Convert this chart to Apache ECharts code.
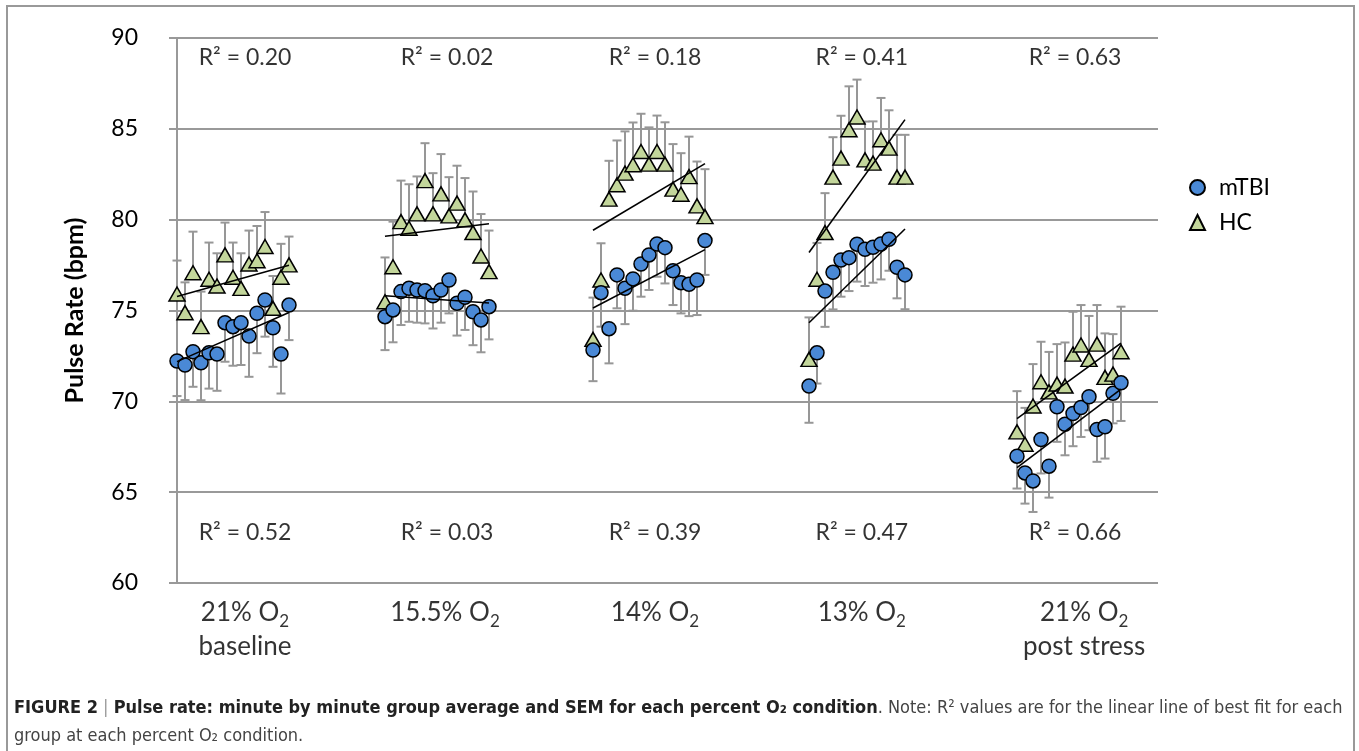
<!DOCTYPE html>
<html><head><meta charset="utf-8">
<script src="https://cdn.jsdelivr.net/npm/echarts@6/dist/echarts.min.js"></script>
<style>html,body{margin:0;padding:0;background:#fff;}#c{width:1359px;height:751px;}</style>
</head><body><div id="c"></div>
<script>
// ---------- data ----------
const conditionNames = ['21% O2', '15.5% O2', '14% O2', '13% O2', '21% O2'];
const conditionSub   = ['baseline', '', '', '', 'post stress'];
const groupStart = [0, 26, 52, 79, 105];          // minute index of first point in each condition
const labelCenters = [8.5, 33.5, 59.75, 85.6, 113.4];
const r2Centers    = [8.5, 33.75, 59.75, 85.6, 112.25];
const r2HC   = ['0.20', '0.02', '0.18', '0.41', '0.63'];
const r2mTBI = ['0.52', '0.03', '0.39', '0.47', '0.66'];

const mtbi1 = [72.22, 72.00, 72.73, 72.12, 72.67, 72.60, 74.33, 74.11, 74.33, 73.59, 74.85, 75.58, 74.05, 72.60, 75.30];
const mtbi2 = [74.66, 75.03, 76.04, 76.22, 76.13, 76.09, 75.81, 76.13, 76.68, 75.40, 75.73, 74.93, 74.48, 75.21];
const mtbi3 = [72.82, 75.98, 74.00, 76.96, 76.22, 76.74, 77.56, 78.06, 78.66, 78.46, 77.19, 76.53, 76.44, 76.68, 78.85];
const mtbi4 = [70.84, 72.67, 76.07, 77.10, 77.78, 77.91, 78.65, 78.37, 78.48, 78.66, 78.92, 77.38, 76.96];
const mtbi5 = [66.98, 66.06, 65.62, 67.90, 66.43, 69.70, 68.74, 69.33, 69.66, 70.25, 68.45, 68.60, 70.44, 71.02];

const mtbiSem1 = [1.93, 1.93, 1.93, 2.06, 1.97, 2.02, 2.15, 2.15, 2.33, 2.24, 2.20, 2.02, 2.15, 2.17, 1.93];
const mtbiSem2 = [1.84, 1.78, 1.84, 1.84, 1.80, 1.80, 1.80, 1.80, 1.84, 1.78, 1.80, 1.84, 1.78, 1.80];
const mtbiSem3 = [1.71, 1.87, 1.91, 1.84, 1.97, 1.75, 1.80, 1.93, 1.80, 1.97, 1.89, 1.69, 1.75, 1.93, 1.89];
const mtbiSem4 = [2.02, 1.69, 1.97, 2.04, 2.02, 1.84, 2.06, 2.02, 1.95, 1.95, 1.73, 1.71, 1.89];
const mtbiSem5 = [1.78, 1.69, 1.71, 1.87, 1.73, 1.93, 1.71, 1.80, 1.62, 1.84, 1.78, 1.75, 1.65, 2.10];

const hc1 = [75.91, 74.88, 77.08, 74.11, 76.72, 76.35, 78.06, 76.83, 76.22, 77.56, 77.74, 78.52, 75.12, 76.83, 77.51];
const hc2 = [75.48, 77.41, 79.89, 79.53, 80.32, 82.15, 80.32, 81.42, 80.21, 80.91, 79.99, 79.29, 78.00, 77.14];
const hc3 = [73.41, 76.68, 81.13, 81.92, 82.56, 83.02, 83.75, 83.06, 83.75, 83.06, 81.68, 81.40, 82.37, 80.76, 80.17];
const hc4 = [72.31, 76.72, 79.29, 82.34, 83.39, 84.95, 85.65, 83.29, 83.11, 84.40, 83.94, 82.34, 82.34];
const hc5 = [68.32, 67.64, 69.74, 71.08, 70.52, 70.95, 70.84, 72.60, 73.10, 72.31, 73.15, 71.32, 71.50, 72.73];

const hcSem1 = [1.84, 1.67, 2.26, 1.93, 2.02, 1.80, 1.78, 1.91, 1.93, 1.84, 1.91, 1.90, 1.78, 1.84, 1.56];
const hcSem2 = [2.44, 2.48, 2.26, 2.42, 2.06, 2.06, 2.24, 2.19, 2.13, 2.06, 2.30, 2.26, 2.31, 2.26];
const hcSem3 = [2.30, 2.02, 2.11, 2.44, 2.30, 2.33, 2.08, 2.02, 1.98, 2.30, 2.48, 2.26, 2.20, 2.44, 2.61];
const hcSem4 = [2.31, 2.00, 2.17, 2.20, 2.33, 2.39, 2.06, 2.11, 2.30, 2.30, 2.08, 2.33, 2.33];
const hcSem5 = [2.24, 2.00, 2.31, 2.20, 2.20, 2.20, 2.40, 2.33, 2.20, 2.39, 2.15, 2.42, 2.20, 2.48];

// ---------- build ----------
const mtbiMeans = [mtbi1, mtbi2, mtbi3, mtbi4, mtbi5];
const mtbiSems  = [mtbiSem1, mtbiSem2, mtbiSem3, mtbiSem4, mtbiSem5];
const hcMeans   = [hc1, hc2, hc3, hc4, hc5];
const hcSems    = [hcSem1, hcSem2, hcSem3, hcSem4, hcSem5];

const FONT = 'Lato, "Open Sans", sans-serif';
const CAPFONT = '"Liberation Sans Narrow", "DejaVu Sans Condensed", sans-serif';
const GRAY = '#999999';
const BLUE = '#4A89D6';
const GREEN = '#C3D69B';

function linFit(xs, ys) {
  const n = xs.length;
  const mx = xs.reduce((a, b) => a + b, 0) / n;
  const my = ys.reduce((a, b) => a + b, 0) / n;
  let sxy = 0, sxx = 0;
  for (let i = 0; i < n; i++) { sxy += (xs[i] - mx) * (ys[i] - my); sxx += (xs[i] - mx) ** 2; }
  const b = sxy / sxx;
  return { a: my - b * mx, b };
}

const mtbiPts = [], hcPts = [], errData = [], trendSeries = [];
groupStart.forEach((s, g) => {
  mtbiMeans[g].forEach((v, i) => { mtbiPts.push([s + i, v]); errData.push([s + i, v, mtbiSems[g][i], -1]); });
  hcMeans[g].forEach((v, i) => { hcPts.push([s + i, v]); errData.push([s + i, v, hcSems[g][i], 1]); });
  [mtbiMeans[g], hcMeans[g]].forEach(arr => {
    const xs = arr.map((_, i) => s + i);
    const f = linFit(xs, arr);
    const x0 = xs[0], x1 = xs[xs.length - 1];
    trendSeries.push({
      type: 'line', name: 'trend', silent: true, symbol: 'none', z: 6,
      data: [[x0, f.a + f.b * x0], [x1, f.a + f.b * x1]],
      lineStyle: { color: '#000', width: 1.6 }
    });
  });
});

const r2Data = [];
r2Centers.forEach((c, g) => {
  r2Data.push([c, 88.9, 'R² = ' + r2HC[g]]);
  r2Data.push([c, 62.75, 'R² = ' + r2mTBI[g]]);
});
const catData = labelCenters.map((c, g) => [c, 60, g]);

function catFormatter(p) {
  const g = p.data[2];
  const name = conditionNames[g];
  let s = '{m|' + name.slice(0, -1) + '}{s|' + name.slice(-1) + '}';
  if (conditionSub[g]) s += '\n{m|' + conditionSub[g] + '}';
  return s;
}

const option = {
  backgroundColor: '#fff',
  animation: false,
  grid: { left: 170, top: 38, width: 988, height: 545, containLabel: false },
  xAxis: { type: 'value', min: -0.875, max: 122.625, show: false },
  yAxis: {
    type: 'value', min: 60, max: 90, interval: 5,
    axisLine: { show: true, lineStyle: { color: GRAY, width: 2 } },
    axisTick: { show: true, length: 8, lineStyle: { color: GRAY, width: 2 } },
    splitLine: { show: true, lineStyle: { color: GRAY, width: 2 } },
    axisLabel: { fontSize: 23, color: '#000', margin: 32, fontFamily: FONT },
    name: 'Pulse Rate (bpm)', nameLocation: 'middle', nameGap: 83,
    nameTextStyle: { fontSize: 25, fontWeight: 'bold', color: '#000', fontFamily: FONT }
  },
  legend: {
    data: ['mTBI', 'HC'], orient: 'vertical', left: 1184, top: 171,
    itemWidth: 15, itemHeight: 15, itemGap: 12,
    textStyle: { fontSize: 23, color: '#000', fontFamily: FONT, padding: [0, 0, 0, 9] }
  },
  series: [
    {
      type: 'custom', name: 'err', silent: true, z: 1, clip: false,
      data: errData,
      renderItem: function (params, api) {
        const x = api.value(0), y = api.value(1), e = api.value(2), d = api.value(3);
        const p0 = api.coord([x, y]);
        const p1 = api.coord([x, y + d * e]);
        const st = { stroke: '#979797', lineWidth: 2 };
        return {
          type: 'group', children: [
            { type: 'line', shape: { x1: p0[0], y1: p0[1], x2: p1[0], y2: p1[1] }, style: st },
            { type: 'line', shape: { x1: p1[0] - 4.5, y1: p1[1], x2: p1[0] + 4.5, y2: p1[1] }, style: st }
          ]
        };
      }
    },
    {
      type: 'scatter', name: 'HC', data: hcPts, symbol: 'triangle', symbolSize: [16, 14], z: 3,
      itemStyle: { color: GREEN, borderColor: '#000', borderWidth: 1.5, opacity: 1 }
    },
    {
      type: 'scatter', name: 'mTBI', data: mtbiPts, symbol: 'circle', symbolSize: 14, z: 4,
      itemStyle: { color: BLUE, borderColor: '#000', borderWidth: 1.5, opacity: 1 }
    },
    ...trendSeries,
    {
      type: 'scatter', name: 'r2', data: r2Data, symbolSize: 0, silent: true, clip: false, z: 7,
      label: { show: true, position: 'inside', formatter: p => p.data[2], fontSize: 23, color: '#000', fontFamily: FONT }
    },
    {
      type: 'scatter', name: 'cats', data: catData, symbolSize: 0, silent: true, clip: false, z: 7,
      label: {
        show: true, position: 'bottom', distance: 13, formatter: catFormatter, color: '#000',
        rich: {
          m: { fontSize: 26, lineHeight: 34, fontFamily: FONT, color: '#000' },
          s: { fontSize: 17, lineHeight: 18, verticalAlign: 'bottom', fontFamily: FONT, color: '#000' }
        }
      }
    }
  ],
  graphic: [
    { type: 'rect', silent: true, shape: { x: 7, y: 6, width: 1347, height: 800 }, style: { fill: 'none', stroke: '#999', lineWidth: 2 } },
    {
      type: 'text', silent: true, left: 14, top: 694,
      style: {
        text: '{b|FIGURE 2} {sep||} {b|Pulse rate: minute by minute group average and SEM for each percent O₂ condition}{n|. Note: R² values are for the linear line of best fit for each}\n{n|group at each percent O₂ condition.}',
        fontFamily: CAPFONT, fontSize: 18, fill: '#333', lineHeight: 28,
        rich: {
          b: { fontWeight: 'bold', fontSize: 18, fill: '#222', lineHeight: 28, fontFamily: CAPFONT },
          n: { fontSize: 18, fill: '#444', lineHeight: 28, fontFamily: CAPFONT },
          sep: { fontSize: 18, fill: '#999', lineHeight: 28, fontFamily: CAPFONT }
        }
      }
    }
  ]
};
const chart = echarts.init(document.getElementById('c'));
chart.setOption(option);
</script></body></html>
